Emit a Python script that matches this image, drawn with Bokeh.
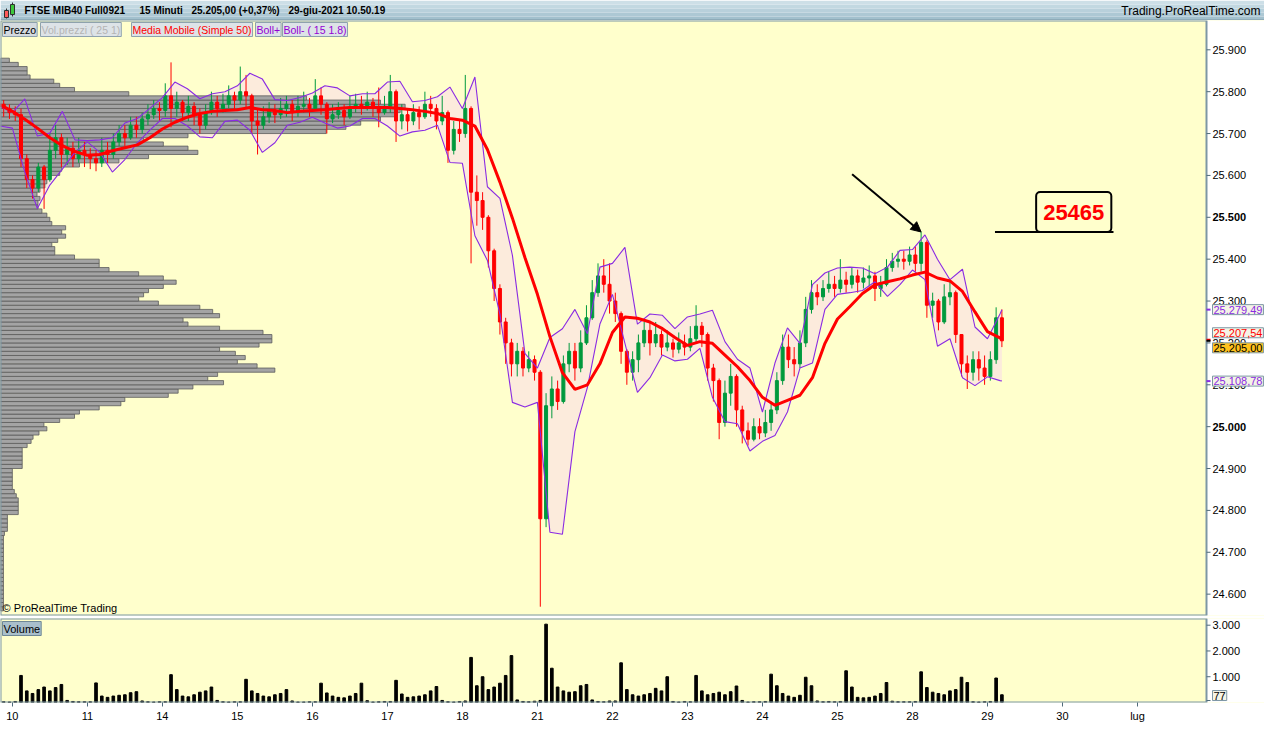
import numpy as np
from bokeh.plotting import figure
from bokeh.models import Range1d, FixedTicker, Label, Arrow, NormalHead, ColumnDataSource
from bokeh.layouts import column
from bokeh.embed import file_html
from bokeh.resources import INLINE
from bokeh.core.properties import value

FONT = "Liberation Sans"

# ---------------- data ----------------
instrument = "FTSE MIB40 Full0921"
timeframe = "15 Minuti"
last_price = 25205.00
last_change_pct = 0.37
timestamp = "29-giu-2021 10.50.19"
site = "Trading.ProRealTime.com"

day_labels = ["10", "11", "14", "15", "16", "17", "18", "21", "22", "23",
              "24", "25", "28", "29", "30", "lug"]
price_ticks = list(range(24600, 25901, 100))
bold_price_ticks = [25000, 25500]
volume_ticks = [1000, 2000, 3000]

first_open = 25770
# candles: 2 of 9-giu, 13 per day (10..28 giu), 3 of 29-giu
close = [25760, 25750,
         25745, 25640, 25590, 25570, 25620, 25590, 25660, 25690, 25650, 25665, 25640, 25660, 25650,
         25640, 25630, 25660, 25650, 25680, 25700, 25690, 25720, 25710, 25735, 25745, 25760, 25755,
         25790, 25760, 25775, 25750, 25765, 25745, 25720, 25750, 25775, 25760, 25770, 25790, 25780,
         25800, 25790, 25730, 25720, 25740, 25755, 25745, 25760, 25770, 25750, 25765, 25770, 25760,
         25790, 25770, 25735, 25745, 25755, 25740, 25760, 25770, 25765, 25775, 25760, 25750, 25765,
         25800, 25730, 25745, 25730, 25750, 25740, 25770, 25760, 25730, 25750, 25660, 25710, 25700,
         25760, 25560, 25540, 25500, 25420, 25330, 25250, 25200, 25150, 25180, 25140, 25160, 25130,
         24780, 25050, 25090, 25060, 25150, 25180, 25140, 25200, 25260, 25320, 25360, 25340, 25300,
         25270, 25180, 25130, 25160, 25200, 25230, 25200, 25220, 25190, 25200, 25185, 25200, 25190,
         25210, 25240, 25220, 25140, 25110, 25010, 25080, 25120, 25040, 24990, 24970, 25000, 24985,
         25010, 25040, 25110, 25190, 25160, 25150, 25200, 25280, 25320, 25310, 25330, 25340, 25330,
         25350, 25340, 25360, 25345, 25355, 25360, 25330, 25340, 25380, 25395, 25400, 25395, 25410,
         25390, 25440, 25290, 25300, 25250, 25310, 25320, 25220, 25150, 25130, 25160, 25140, 25120,
         25160, 25260, 25205]
high = [25780, 25770,
        25765, 25760, 25650, 25600, 25630, 25625, 25700, 25720, 25700, 25690, 25680, 25690, 25680,
        25665, 25660, 25690, 25680, 25700, 25720, 25720, 25740, 25740, 25750, 25770, 25780, 25775,
        25820, 25870, 25800, 25780, 25790, 25775, 25760, 25770, 25800, 25790, 25795, 25815, 25800,
        25860, 25840, 25795, 25760, 25765, 25775, 25770, 25785, 25790, 25780, 25790, 25800, 25785,
        25830, 25810, 25775, 25770, 25775, 25770, 25790, 25795, 25790, 25800, 25785, 25810, 25790,
        25840, 25805, 25770, 25760, 25770, 25765, 25800, 25790, 25770, 25790, 25755, 25730, 25730,
        25840, 25765, 25600, 25560, 25505, 25425, 25340, 25260, 25210, 25200, 25190, 25180, 25170,
        25135, 25080, 25120, 25110, 25170, 25200, 25200, 25230, 25290, 25350, 25390, 25400, 25390,
        25320, 25275, 25185, 25180, 25220, 25250, 25250, 25250, 25230, 25230, 25210, 25225, 25220,
        25240, 25290, 25250, 25225, 25150, 25115, 25110, 25150, 25125, 25050, 25010, 25020, 25020,
        25040, 25060, 25130, 25220, 25220, 25190, 25230, 25310, 25350, 25340, 25350, 25370, 25360,
        25400, 25370, 25380, 25375, 25380, 25385, 25370, 25360, 25400, 25415, 25420, 25420, 25430,
        25430, 25465, 25445, 25320, 25305, 25340, 25350, 25325, 25220, 25170, 25180, 25180, 25170,
        25180, 25285, 25280]
low = [25740, 25735,
       25730, 25620, 25570, 25545, 25560, 25520, 25585, 25640, 25620, 25625, 25620, 25630, 25620,
       25615, 25610, 25620, 25630, 25640, 25670, 25670, 25685, 25690, 25700, 25720, 25735, 25730,
       25740, 25715, 25740, 25730, 25730, 25720, 25700, 25710, 25745, 25740, 25750, 25760, 25755,
       25770, 25760, 25700, 25650, 25710, 25725, 25725, 25735, 25740, 25730, 25740, 25750, 25740,
       25760, 25745, 25700, 25725, 25735, 25720, 25735, 25750, 25745, 25755, 25740, 25715, 25745,
       25750, 25680, 25710, 25705, 25720, 25710, 25735, 25740, 25710, 25720, 25630, 25650, 25680,
       25690, 25390, 25480, 25470, 25380, 25300, 25220, 25150, 25120, 25120, 25120, 25130, 25110,
       24570, 24760, 25020, 25040, 25055, 25130, 25110, 25130, 25195, 25255, 25310, 25320, 25270,
       25250, 25150, 25100, 25110, 25130, 25190, 25170, 25190, 25170, 25180, 25165, 25175, 25170,
       25180, 25200, 25190, 25110, 25060, 24970, 25000, 25050, 25000, 24960, 24955, 24965, 24970,
       24975, 24990, 25030, 25100, 25140, 25120, 25140, 25190, 25270, 25290, 25300, 25320, 25310,
       25320, 25320, 25330, 25320, 25330, 25335, 25300, 25310, 25335, 25370, 25380, 25375, 25385,
       25370, 25370, 25260, 25260, 25230, 25245, 25290, 25200, 25120, 25090, 25110, 25110, 25100,
       25110, 25150, 25190]
volume = [30, 20,
          40, 1050, 450, 350, 500, 600, 450, 580, 700, 80, 40, 30, 30,
          30, 760, 250, 200, 250, 280, 300, 380, 420, 60, 30, 20, 30,
          30, 1080, 500, 250, 220, 300, 400, 450, 600, 80, 30, 20, 30,
          30, 900, 450, 350, 250, 220, 300, 350, 500, 60, 20, 20, 30,
          30, 750, 370, 250, 200, 180, 250, 350, 750, 70, 20, 30, 40,
          40, 860, 330, 200, 220, 250, 300, 450, 620, 80, 30, 20, 40,
          60, 1750, 650, 1000, 500, 600, 750, 1050, 1820, 100, 40, 30, 50,
          80, 3040, 1330, 600, 450, 400, 420, 650, 700, 100, 40, 30, 60,
          60, 1540, 500, 300, 250, 300, 350, 550, 450, 1000, 40, 20, 40,
          30, 1050, 450, 300, 350, 400, 300, 420, 640, 80, 20, 30, 30,
          40, 1100, 650, 350, 250, 200, 280, 980, 650, 60, 30, 40, 30,
          40, 1230, 600, 200, 180, 200, 250, 350, 775, 50, 30, 30, 30,
          40, 1190, 580, 400, 350, 300, 450, 500, 980, 775, 30, 20, 30,
          40, 950, 300]

# indicators, 6 readings per day
ma50 = [25769,
        25753, 25734, 25713, 25690, 25671, 25657,
        25648, 25650, 25659, 25666, 25673, 25690,
        25711, 25727, 25739, 25748, 25753, 25755,
        25757, 25762, 25757, 25755, 25750, 25753,
        25755, 25757, 25760, 25762, 25762, 25762,
        25762, 25760, 25757, 25753, 25748, 25736,
        25732, 25718, 25662, 25584, 25498, 25404,
        25316, 25215, 25129, 25089, 25100, 25150,
        25225, 25262, 25259, 25250, 25234, 25213,
        25194, 25203, 25199, 25171, 25143, 25110,
        25070, 25051, 25063, 25075, 25117, 25199,
        25257, 25287, 25318, 25339, 25346, 25353,
        25362, 25369, 25355, 25348, 25323, 25274,
        25227, 25212, 25208]
boll_up = [25765,
           25750, 25783, 25694, 25701, 25753, 25685,
           25683, 25685, 25690, 25725, 25736, 25760,
           25786, 25823, 25807, 25783, 25795, 25800,
           25814, 25844, 25830, 25781, 25779, 25786,
           25797, 25814, 25809, 25790, 25795, 25795,
           25823, 25825, 25776, 25779, 25788, 25811,
           25760, 25835, 25573, 25545, 25409, 25175,
           25140, 25213, 25234, 25280, 25222, 25381,
           25390, 25428, 25245, 25269, 25266, 25234,
           25262, 25269, 25278, 25203, 25161, 25140,
           25035, 25152, 25236, 25199, 25339, 25367,
           25379, 25381, 25379, 25365, 25381, 25421,
           25423, 25458, 25400, 25351, 25376, 25238,
           25210, 25269, 25279]
boll_dn = [25718,
           25713, 25608, 25521, 25577, 25615, 25655,
           25680, 25655, 25608, 25638, 25678, 25708,
           25736, 25736, 25718, 25692, 25690, 25729,
           25732, 25708, 25655, 25678, 25720, 25727,
           25739, 25725, 25713, 25718, 25736, 25736,
           25718, 25694, 25704, 25708, 25720, 25631,
           25629, 25456, 25397, 25269, 25058, 25047,
           25058, 24748, 24743, 24988, 25094, 25245,
           25316, 25199, 25082, 25117, 25171, 25157,
           25161, 25187, 25070, 25012, 25007, 24942,
           24965, 24979, 25035, 25140, 25152, 25280,
           25316, 25320, 25325, 25346, 25311, 25339,
           25374, 25351, 25192, 25210, 25117, 25098,
           25119, 25110, 25109]

# volume at price (left profile), 10-point bins from 24560
profile_start = 24560
profile_step = 10
profile_vol = [3, 3, 3, 3, 3, 3, 3, 3, 3, 3,
               3, 3, 3, 3, 3, 3, 3, 3, 4, 7,
               7, 7, 7, 18, 18, 18, 18, 16, 14, 12,
               12, 12, 12, 12, 22, 22, 22, 22, 22, 27,
               31, 33, 39, 47, 44, 60, 75, 80, 100, 122,
               126, 170, 180, 195, 226, 210, 220, 278, 260, 240,
               248, 238, 222, 262, 275, 275, 266, 222, 190, 185,
               222, 215, 202, 160, 140, 145, 150, 165, 178, 165,
               140, 110, 100, 100, 75, 55, 55, 52, 58, 66,
               62, 66, 52, 50, 47, 42, 38, 38, 40, 37,
               40, 45, 47, 50, 60, 62, 80, 120, 150, 200,
               190, 165, 145, 190, 330, 350, 365, 385, 400, 405,
               410, 385, 310, 130, 75, 60, 54, 30, 27, 27,
               18, 9]

last_boll_up = 25279.49
last_ma50 = 25207.54
last_boll_dn = 25108.78
last_volume = 77
marked_high = 25465


def it_num(v, dec=2):
    s = f"{v:,.{dec}f}"
    return s.replace(",", "_").replace(".", ",").replace("_", ".")


# ---------------- geometry ----------------
W = 1264          # whole chart width
AX = 58           # right price-scale strip
FW = W - AX       # chart area width
SLOTS = 13
cx = ([-1 + (j + 0.5) / SLOTS for j in (11, 12)]
      + [d + (j + 0.5) / SLOTS for d in range(13) for j in range(SLOTS)]
      + [13 + (j + 0.5) / SLOTS for j in range(3)])
ind_x = [-1 / 6] + [d + k / 6 for d in range(13) for k in range(6)] + [13, 13 + 1 / 6, cx[-1]]
assert len(cx) == len(close) == len(high) == len(low) == len(volume)
assert len(ind_x) == len(ma50) == len(boll_up) == len(boll_dn)

opens = [first_open] + close[:-1]
GREEN, RED, PURPLE = "#00993d", "#ff0000", "#8a2be2"
ccol = [GREEN if c >= o else RED for o, c in zip(opens, close)]
btop = [max(o, c) for o, c in zip(opens, close)]
bbot = [min(o, c) for o, c in zip(opens, close)]

X0, X1 = -0.158, 15.92
XE = X0 + (X1 - X0) * W / FW
Y0, Y1 = 24549, 25970
VY1 = 3260
FRAME = "#7d97a5"
TICKC = "#4f6b7a"

# ---------------- header ----------------
hdr = figure(width=W, height=20, x_range=Range1d(0, W), y_range=Range1d(0, 20),
             output_backend="svg", toolbar_location=None, min_border=0,
             x_axis_location=None, y_axis_location=None, outline_line_color=None)
hdr.grid.visible = False
hdr.quad(left=0, right=W, bottom=[0, 4, 8, 12, 16], top=[4, 8, 12, 16, 20],
         fill_color=["#a2c0cd", "#adc8d4", "#b8d0db", "#c2d8e1", "#cddfe7"], line_color=None)
hdr.segment(x0=0, y0=0.5, x1=W, y1=0.5, line_color="#7a96a3", line_width=1)
hdr.segment(x0=[6, 12], y0=[2, 4], x1=[6, 12], y1=[12, 18], line_color="#303030")
hdr.quad(left=[4, 10], right=[8, 14], bottom=[3, 6], top=[10, 16],
         fill_color=["#ff5a5a", "#3cc83c"], line_color="#303030")
hdr.text(x=[24, 139, 191, 288], y=[10] * 4,
         text=[instrument, timeframe, f"{it_num(last_price)} (+{it_num(last_change_pct)}%)", timestamp],
         text_font=value(FONT), text_font_size="10px", text_font_style="bold",
         text_baseline="middle", text_color="#000000")
hdr.text(x=[W - 4], y=[10], text=[site], text_font=value(FONT), text_font_size="12px",
         text_baseline="middle", text_align="right", text_color="#000000")

# ---------------- price panel ----------------
p = figure(width=W, height=598, x_range=Range1d(X0, XE), y_range=Range1d(Y0, Y1),
           output_backend="svg", toolbar_location=None, x_axis_location=None,
           y_axis_location=None, min_border=0, min_border_bottom=3,
           background_fill_color="#ffffcc", border_fill_color="white", outline_line_color=None)
p.grid.visible = False
p.extra_x_ranges = {"prof": Range1d(0, 1222 * W / FW), "px": Range1d(0, W)}

p.varea(x=ind_x, y1=boll_dn, y2=boll_up, fill_color="#fcebdc")
prof_mid = [profile_start + profile_step * (i + 0.5) for i in range(len(profile_vol))]
p.hbar(y=prof_mid, left=0, right=profile_vol, height=profile_step, x_range_name="prof",
       fill_color="#a4a4a4", line_color="#5c5c5c", line_width=0.8)
p.segment(x0=cx, y0=low, x1=cx, y1=high, line_color=ccol, line_width=1)
p.vbar(x=cx, top=btop, bottom=bbot, width=0.04, fill_color=ccol, line_color=ccol, line_width=1)
p.line(ind_x, boll_up, line_color=PURPLE, line_width=1.1)
p.line(ind_x, boll_dn, line_color=PURPLE, line_width=1.1)
p.line(ind_x, ma50, line_color=RED, line_width=3)

# price scale strip on the right
p.quad(left=[FW], right=[W], bottom=[Y0], top=[Y1], x_range_name="px",
       fill_color="white", line_color=None)
p.quad(left=[0], right=[FW], bottom=[Y0], top=[Y1], x_range_name="px",
       fill_color=None, line_color=FRAME, line_width=2)
p.segment(x0=FW, x1=FW + 4, y0=price_ticks, y1=price_ticks, x_range_name="px",
          line_color=TICKC, line_width=1)
ptick_src = ColumnDataSource(dict(
    x=[FW + 6] * len(price_ticks), y=price_ticks,
    text=[it_num(t, 0) for t in price_ticks],
    style=["bold" if t in bold_price_ticks else "normal" for t in price_ticks]))
p.text(x="x", y="y", text="text", text_font_style="style", source=ptick_src, x_range_name="px",
       text_font=value(FONT), text_font_size="11px", text_baseline="middle", text_color="#000000")

side_vals = [last_boll_up, last_ma50, close[-1], last_boll_dn]
side_text_col = [PURPLE, RED, "#000000", PURPLE]
side_bg = ["#f4f4e6", "#f4f4e6", "#ffc21c", "#f4f4e6"]
side_off = [0, 7, -7, 0]
p.segment(x0=FW, x1=FW + 4, y0=side_vals, y1=side_vals, x_range_name="px",
          line_color=side_text_col, line_width=2)
for val, tcol, bg, off in zip(side_vals, side_text_col, side_bg, side_off):
    p.add_layout(Label(x=FW + 6, x_units="screen", y=val, y_offset=off, text=it_num(val),
                       text_font=FONT, text_font_size="11px", text_baseline="middle",
                       text_color=tcol, background_fill_color=bg, border_line_color=FRAME,
                       border_line_width=1, padding=1))

# legend tabs
for tx, txt, col, bg in [(2, "Prezzo", "#000000", "#d4dadf"),
                         (40, "Vol.prezzi ( 25 1)", "#b4b4b4", "#dde3e7"),
                         (131, "Media Mobile (Simple 50)", RED, "#dde3e7"),
                         (255, "Boll+", "#9400d3", "#dde3e7"),
                         (282, "Boll- ( 15 1.8)", "#9400d3", "#dde3e7")]:
    p.add_layout(Label(x=tx, x_units="screen", y=Y1, y_offset=-2, text=txt, text_font=FONT,
                       text_font_size="10.5px", text_baseline="top", text_color=col,
                       background_fill_color=bg, border_line_color="#8ea2ad",
                       border_line_width=1, padding=1))

p.add_layout(Label(x=2, x_units="screen", y=Y0, y_offset=2, text="\u00a9 ProRealTime Trading",
                   text_font=FONT, text_font_size="11px", text_baseline="bottom",
                   text_color="#000000"))

# annotation of the 25465 high
ih = high.index(marked_high)
xe = cx[ih]
p.add_layout(Arrow(x_start=xe - 0.92, y_start=marked_high + 138, x_end=xe, y_end=marked_high,
                   line_width=2, line_color="black",
                   end=NormalHead(size=10, fill_color="black", line_color="black")))
p.segment(x0=[13.1], y0=[marked_high], x1=[14.68], y1=[marked_high], line_color="black", line_width=2)
box_label = Label(x=14.15, y=marked_high, y_offset=0, text=str(marked_high), text_font=FONT,
                  text_font_size="22px", text_font_style="bold", text_color=RED,
                  text_align="center", text_baseline="bottom",
                  background_fill_color="#ffffcc", border_line_color="black",
                  border_line_width=2, border_radius=4,
                  padding=dict(left=7, right=7, top=13, bottom=12))
p.add_layout(box_label)

# ---------------- volume panel ----------------
v = figure(width=W, height=106, x_range=p.x_range, y_range=Range1d(0, VY1),
           output_backend="svg", toolbar_location=None, y_axis_location=None,
           min_border=0, min_border_bottom=20,
           background_fill_color="#ffffcc", border_fill_color="white", outline_line_color=None)
v.grid.visible = False
v.extra_x_ranges = {"px": Range1d(0, W)}
v.vbar(x=cx, top=volume, width=0.035, fill_color="black", line_color="black")
v.quad(left=[FW], right=[W], bottom=[0], top=[VY1], x_range_name="px",
       fill_color="white", line_color=None)
v.quad(left=[0], right=[FW], bottom=[0], top=[VY1], x_range_name="px",
       fill_color=None, line_color=FRAME, line_width=2)
v.segment(x0=FW, x1=FW + 4, y0=volume_ticks + [last_volume], y1=volume_ticks + [last_volume],
          x_range_name="px", line_color=TICKC, line_width=1)
v.text(x=[FW + 6] * len(volume_ticks), y=volume_ticks, text=[it_num(t, 0) for t in volume_ticks],
       x_range_name="px", text_font=value(FONT), text_font_size="11px",
       text_baseline="middle", text_color="#000000")

vx = v.xaxis[0]
vx.ticker = FixedTicker(ticks=list(range(len(day_labels))))
vx.major_label_overrides = {i: lab for i, lab in enumerate(day_labels)}
vx.major_label_text_font = FONT
vx.major_label_text_font_size = "11px"
vx.major_label_text_color = "#000000"
vx.major_tick_out = 4
vx.major_tick_in = 0
vx.minor_tick_line_color = None
vx.major_tick_line_color = TICKC
vx.axis_line_color = None
vx.major_label_standoff = 3

v.add_layout(Label(x=2, x_units="screen", y=VY1, y_offset=-3, text="Volume", text_font=FONT,
                   text_font_size="11px", text_baseline="top", text_color="#000000",
                   background_fill_color="#a9bfcb", border_line_color="#6f8896",
                   border_line_width=1, padding=1))
v.add_layout(Label(x=FW + 6, x_units="screen", y=last_volume, y_offset=5, text=str(last_volume),
                   text_font=FONT, text_font_size="11px", text_baseline="middle",
                   text_color="#000000", background_fill_color="#f4f4e6",
                   border_line_color=FRAME, border_line_width=1, padding=1))

layout = column(hdr, p, v, spacing=0)
open("out.html", "w").write(file_html(layout, INLINE))
